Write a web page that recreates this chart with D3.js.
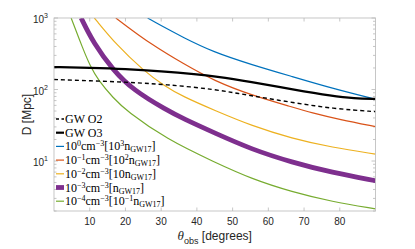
<!DOCTYPE html>
<html>
<head>
<meta charset="utf-8">
<script src="https://cdn.jsdelivr.net/npm/d3@7"></script>
<style>
  body { margin: 0; background: #fff; }
  svg { display: block; }
</style>
</head>
<body>
<div id="chart"></div>
<script>
// values (theta in degrees, D in Mpc)
var o2Theta = [0, 10, 21, 31, 45, 55, 67, 78, 90];
var o2D     = [138, 133, 126, 118, 101, 82, 65.5, 54, 49];

var o3Theta = [0, 10, 20, 30, 40, 45, 55, 67, 78, 84, 90];
var o3D     = [206, 201, 194, 180, 163, 153, 128, 100, 81, 75, 74];

var n0Theta = [26.2, 30, 36, 44.5, 55.4, 66.6, 77.8, 90];
var n0D     = [1000, 780, 540, 335, 222, 152, 104, 73];

var n1Theta = [17.3, 20, 27, 36.2, 45, 55.4, 66.6, 72, 80, 90];
var n1D     = [1000, 790, 435, 229, 131, 83, 57, 47.5, 38, 30.3];

var n2Theta = [11.3, 17.5, 25, 30.6, 36.2, 45, 55.4, 66.6, 77.8, 90];
var n2D     = [1000, 420, 185, 115, 79, 51, 31, 20.7, 15.5, 12.5];

var n3Theta = [7.6, 11, 16.6, 22.2, 31.5, 36.2, 45, 55.4, 66.6, 77.8, 90];
var n3D     = [1000, 450, 185, 98, 51.6, 39, 24.6, 14.5, 9.6, 6.9, 5.3];

var n4Theta = [4.8, 8.2, 10.1, 12.4, 16.6, 20.3, 31.5, 45, 55.4, 66.6, 77.8, 90];
var n4D     = [1000, 360, 215, 134, 76, 50, 20.2, 9.6, 5.6, 3.7, 2.7, 2.14];

var xTicks = [10, 20, 30, 40, 50, 60, 70, 80];
var yTickExp = [1, 2, 3];

var width = 415, height = 249;
var margin = {top: 18, right: 39.5, bottom: 38, left: 54};

var svg = d3.select('#chart').append('svg')
    .attr('width', width)
    .attr('height', height);

var x = d3.scaleLinear()
    .domain([0, 90])
    .range([margin.left, width - margin.right]);

var y = d3.scaleLog()
    .domain([2, 1000])
    .range([height - margin.bottom, margin.top]);

var axisColor = '#b8b8b8';
var textColor = '#262626';

svg.append('clipPath').attr('id', 'plotClip')
    .append('rect')
    .attr('x', x(0)).attr('y', y(1000))
    .attr('width', x(90) - x(0))
    .attr('height', y(2) - y(1000));

// ticks (inward, both sides)
var minor = [];
[1, 10, 100].forEach(function(dec) {
    for (var k = 2; k <= 9; k++) if (dec * k >= 2) minor.push(dec * k);
});
var ticks = svg.append('g').attr('stroke', axisColor).attr('stroke-width', 0.8);
minor.forEach(function(v) {
    ticks.append('line').attr('x1', x(0)).attr('x2', x(0) + 2.5).attr('y1', y(v)).attr('y2', y(v));
    ticks.append('line').attr('x1', x(90)).attr('x2', x(90) - 2.5).attr('y1', y(v)).attr('y2', y(v));
});
yTickExp.forEach(function(e) {
    var v = Math.pow(10, e);
    ticks.append('line').attr('x1', x(0)).attr('x2', x(0) + 4).attr('y1', y(v)).attr('y2', y(v));
    ticks.append('line').attr('x1', x(90)).attr('x2', x(90) - 4).attr('y1', y(v)).attr('y2', y(v));
});
xTicks.forEach(function(t) {
    ticks.append('line').attr('x1', x(t)).attr('x2', x(t)).attr('y1', y(2)).attr('y2', y(2) - 3.5);
    ticks.append('line').attr('x1', x(t)).attr('x2', x(t)).attr('y1', y(1000)).attr('y2', y(1000) + 3.5);
});

// tick labels
svg.append('g').selectAll('text')
    .data(xTicks)
    .enter()
    .append('text')
    .attr('x', function(d) { return x(d); })
    .attr('y', y(2) + 14)
    .attr('text-anchor', 'middle')
    .attr('font-family', 'Liberation Sans, Arial, sans-serif')
    .attr('font-size', '10px')
    .attr('fill', textColor)
    .text(function(d) { return d; });

var yl = svg.append('g').selectAll('text')
    .data(yTickExp)
    .enter()
    .append('text')
    .attr('x', x(0) - 6)
    .attr('y', function(d) { return y(Math.pow(10, d)) + 5; })
    .attr('text-anchor', 'end')
    .attr('font-family', 'Liberation Sans, Arial, sans-serif')
    .attr('font-size', '10px')
    .attr('fill', textColor);
yl.append('tspan').text('10');
yl.append('tspan').attr('dy', -5).attr('font-size', '7px').text(function(d) { return d; });

// curves
var line = d3.line()
    .x(function(d) { return x(d[0]); })
    .y(function(d) { return y(d[1]); })
    .curve(d3.curveBasis);

var series = [
    {t: n0Theta, d: n0D, color: '#0072BD', w: 1.2},
    {t: n1Theta, d: n1D, color: '#D95319', w: 1.2},
    {t: n2Theta, d: n2D, color: '#EDB120', w: 1.2},
    {t: n3Theta, d: n3D, color: '#7E2F8E', w: 4.8},
    {t: n4Theta, d: n4D, color: '#77AC30', w: 1.2},
    {t: o3Theta, d: o3D, color: '#000000', w: 2.2},
    {t: o2Theta, d: o2D, color: '#000000', w: 1.4, dash: '4,3'}
];

var plot = svg.append('g').attr('clip-path', 'url(#plotClip)');
plot.selectAll('path')
    .data(series)
    .enter()
    .append('path')
    .attr('d', function(s) { return line(d3.zip(s.t, s.d)); })
    .attr('fill', 'none')
    .attr('stroke', function(s) { return s.color; })
    .attr('stroke-width', function(s) { return s.w; })
    .attr('stroke-dasharray', function(s) { return s.dash || null; });

// box
svg.append('rect')
    .attr('x', x(0)).attr('y', y(1000))
    .attr('width', x(90) - x(0))
    .attr('height', y(2) - y(1000))
    .attr('fill', 'none')
    .attr('stroke', axisColor)
    .attr('stroke-width', 0.8);

// legend
var legendItems = [
    {color: '#000000', w: 1.4, dash: '3,2.5', parts: [['GW O2']]},
    {color: '#000000', w: 2.2, parts: [['GW O3']]},
    {color: '#0072BD', w: 1.2, parts: [['10'], ['0', 'sup'], ['cm'], ['\u22123', 'sup'], ['[10'], ['3', 'sup'], ['n'], ['GW17', 'sub'], [']']]},
    {color: '#D95319', w: 1.2, parts: [['10'], ['\u22121', 'sup'], ['cm'], ['\u22123', 'sup'], ['[10'], ['2', 'sup'], ['n'], ['GW17', 'sub'], [']']]},
    {color: '#EDB120', w: 1.2, parts: [['10'], ['\u22122', 'sup'], ['cm'], ['\u22123', 'sup'], ['[10n'], ['GW17', 'sub'], [']']]},
    {color: '#7E2F8E', w: 4.8, parts: [['10'], ['\u22123', 'sup'], ['cm'], ['\u22123', 'sup'], ['[n'], ['GW17', 'sub'], [']']]},
    {color: '#77AC30', w: 1.2, parts: [['10'], ['\u22124', 'sup'], ['cm'], ['\u22123', 'sup'], ['[10'], ['\u22121', 'sup'], ['n'], ['GW17', 'sub'], [']']]}
];

var legend = svg.append('g')
    .selectAll('g')
    .data(legendItems)
    .enter()
    .append('g')
    .attr('transform', function(d, i) { return 'translate(0,' + (119 + i * 13.7) + ')'; });

legend.append('line')
    .attr('x1', 56).attr('x2', 64)
    .attr('y1', 0).attr('y2', 0)
    .attr('stroke', function(d) { return d.color; })
    .attr('stroke-width', function(d) { return d.w; })
    .attr('stroke-dasharray', function(d) { return d.dash || null; });

legend.append('text')
    .attr('x', 65)
    .attr('y', 4)
    .attr('font-family', 'Liberation Serif, Times New Roman, serif')
    .attr('font-size', '12px')
    .attr('fill', '#000')
    .each(function(d) {
        var t = d3.select(this);
        var shift = 0;
        d.parts.forEach(function(p) {
            var target = p[1] === 'sup' ? -4 : (p[1] === 'sub' ? 2 : 0);
            var s = t.append('tspan').attr('dy', target - shift).text(p[0]);
            if (p[1]) s.attr('font-size', '8px');
            shift = target;
        });
    });

// axis titles
var xt = svg.append('text')
    .attr('x', (x(0) + x(90)) / 2)
    .attr('y', 240)
    .attr('text-anchor', 'middle')
    .attr('font-family', 'Liberation Sans, Arial, sans-serif')
    .attr('font-size', '12px')
    .attr('fill', textColor);
xt.append('tspan').attr('font-family', 'Liberation Serif, serif').attr('font-style', 'italic').attr('font-size', '13px').text('\u03b8');
xt.append('tspan').attr('dy', 3.5).attr('font-size', '9px').text('obs');
xt.append('tspan').attr('dy', -3.5).text(' [degrees]');

svg.append('text')
    .attr('transform', 'translate(31,' + ((y(2) + y(1000)) / 2) + ') rotate(-90)')
    .attr('text-anchor', 'middle')
    .attr('font-family', 'Liberation Sans, Arial, sans-serif')
    .attr('font-size', '12px')
    .attr('fill', textColor)
    .text('D [Mpc]');
</script>
</body>
</html>
